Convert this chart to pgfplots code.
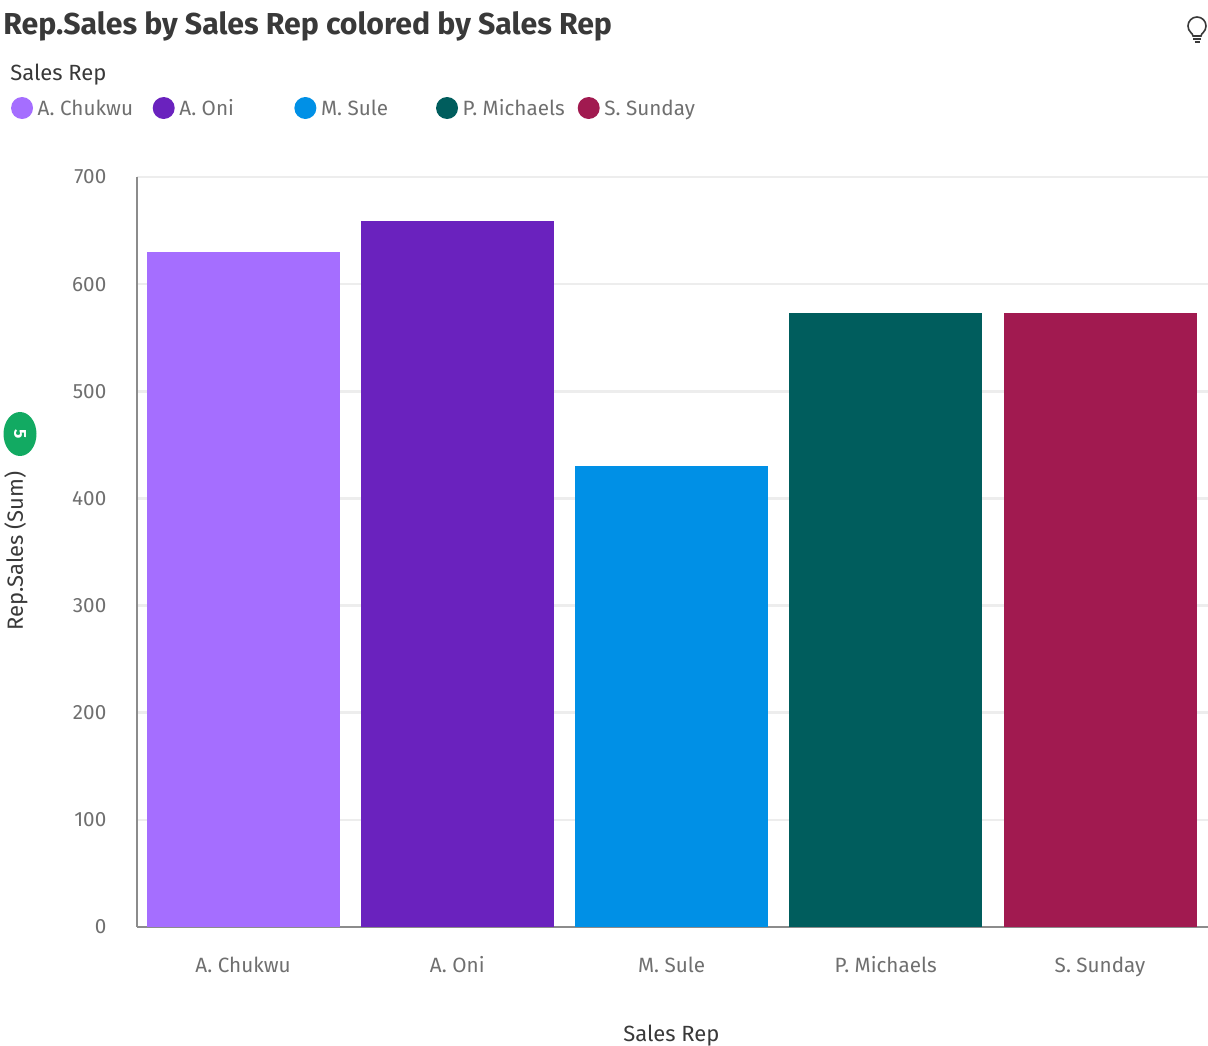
\documentclass[border=0pt]{standalone}
\usepackage{pgfplots}
\pgfplotsset{compat=1.18}
\usepackage{fontspec}
\setmainfont{Fira Sans}
\definecolor{cA}{HTML}{A56EFF}
\definecolor{cB}{HTML}{6A22BE}
\definecolor{cC}{HTML}{0090E6}
\definecolor{cD}{HTML}{005D5D}
\definecolor{cE}{HTML}{A11A50}
\definecolor{tick}{HTML}{6F6F6F}
\definecolor{dark}{HTML}{393939}
\newcommand{\st}{\rule{0pt}{12pt}\rule[-4pt]{0pt}{4pt}}
\pgfplotsset{
  dot/.style={legend image code/.code={\fill[##1] (0,0) circle (8.25pt);}},
}
\begin{document}
\begin{tikzpicture}[x=0.75pt,y=0.75pt]
\path[use as bounding box] (0,0) rectangle (1208,1046);
\begin{axis}[
  at={(102.75pt,89.25pt)},anchor=south west,
  scale only axis,width=803.25pt,height=562.5pt,
  xmin=-0.495,xmax=4.504,ymin=0,ymax=700,
  ytick={0,100,...,700},
  xtick={0,1,2,3,4},
  xticklabels={A. Chukwu,A. Oni,M. Sule,P. Michaels,S. Sunday},
  tick style={draw=none},
  axis x line*=bottom,axis y line*=left,
  axis line style={-,draw=black!45,line width=1.1pt},
  ymajorgrids,
  grid style={draw=black!7,line width=2pt},
  bar width=144.75pt,
  ybar=0pt,
  bar shift=0pt,
  /pgf/number format/assume math mode=true,
  tick label style={font=\fontsize{15.5}{18}\selectfont,text=tick},
  yticklabel style={xshift=-19.5pt},
  xticklabel style={yshift=-14pt,text height=12pt,text depth=4pt},
  xlabel={Sales Rep},
  ylabel={Rep.Sales (Sum)},
  every axis x label/.style={at={(axis description cs:0.499,-0.1450)},anchor=center,inner sep=0pt,outer sep=0pt,font=\fontsize{16.5}{19}\selectfont,text=dark},
  every axis y label/.style={at={(axis description cs:-0.113,0.501)},anchor=center,rotate=90,inner sep=0pt,font=\fontsize{16.5}{19}\selectfont,text=dark},
  title={Rep.Sales by Sales Rep colored by Sales Rep},
  every axis title/.style={at={(axis description cs:-0.125,1.2015)},anchor=west,font=\fontsize{22.7}{26}\selectfont\bfseries,text=dark,inner sep=0pt},
  legend columns=5,
  legend style={at={(axis description cs:-0.1176,1.092)},anchor=west,draw=none,fill=none,
    font=\fontsize{15.5}{18}\selectfont,inner sep=0pt,outer sep=0pt,text=tick,
    /tikz/every even column/.style={column sep=0pt},
    cells={anchor=west}},
  legend cell align=left,
]
\addplot[fill=cA,draw=none,dot] coordinates {(0,630)};
\addlegendentry{\makebox[85.75pt][l]{\st\hspace{1.5pt}A. Chukwu}}
\addplot[fill=cB,draw=none,dot] coordinates {(1,659)};
\addlegendentry{\makebox[85.75pt][l]{\st\hspace{1.5pt}A. Oni}}
\addplot[fill=cC,draw=none,dot] coordinates {(2,430)};
\addlegendentry{\makebox[85.75pt][l]{\st\hspace{1.5pt}M. Sule}}
\addplot[fill=cD,draw=none,dot] coordinates {(3,573)};
\addlegendentry{\makebox[85.75pt][l]{\st\hspace{1.5pt}P. Michaels}}
\addplot[fill=cE,draw=none,dot] coordinates {(4,573)};
\addlegendentry{\st\hspace{1.5pt}S. Sunday}
\end{axis}
\node[anchor=west,inner sep=0pt,font=\fontsize{16.5}{19}\selectfont,text=dark] at (10,971) {Sales Rep};
\fill[fill={rgb,255:red,18;green,170;blue,98}] (20,612) ellipse (16.5 and 22);
\node[rotate=-90,text=white,font=\fontsize{13}{15}\selectfont\bfseries,inner sep=0pt] at (20,612) {5};
\begin{scope}[draw=dark,line width=1.2pt]
\draw (1193,1010) .. controls (1193,1013) and (1188,1014) .. (1188,1020) arc (180:0:9) .. controls (1206,1014) and (1201,1013) .. (1201,1010) -- cycle;
\draw (1193,1007) -- (1201,1007);
\draw (1194.5,1004) -- (1199.5,1004);
\end{scope}
\end{tikzpicture}
\end{document}
